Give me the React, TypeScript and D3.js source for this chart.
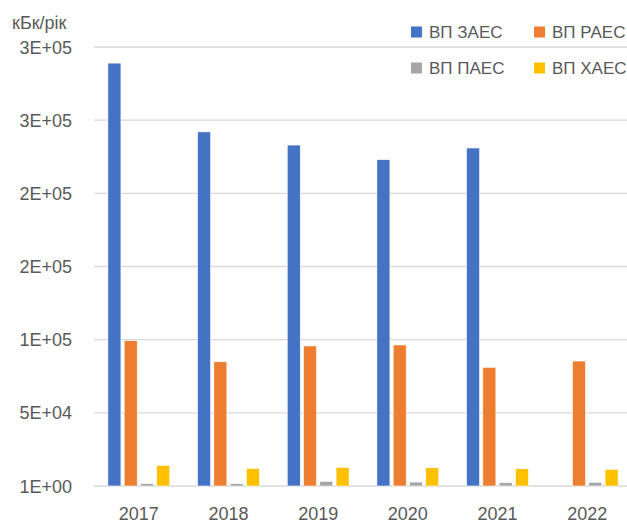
import React from 'react'
import * as d3 from 'd3'

const years = ['2017', '2018', '2019', '2020', '2021', '2022']
const seriesNames = ['ВП ЗАЕС', 'ВП РАЕС', 'ВП ПАЕС', 'ВП ХАЕС']
const seriesColors = ['#4472c4', '#ed7d31', '#a5a5a5', '#ffc000']

// kBq per year (null = no bar)
const zaes = [289000, 242000, 233000, 223000, 231000, null]
const raes = [99300, 84900, 95700, 96400, 81100, 85400]
const paes = [1600, 1600, 3200, 2700, 2300, 2500]
const khaes = [14100, 12100, 12800, 12500, 11800, 11400]

const yTicks = [1, 50001, 100001, 150001, 200001, 250001, 300001]

const allSeries = [zaes, raes, paes, khaes]

const fmt = (v: number) => {
  const [m, e] = v.toExponential(0).split('e')
  const sign = e[0] === '-' ? '-' : '+'
  const digits = e.replace(/[+-]/, '').padStart(2, '0')
  return `${m}E${sign}${digits}`
}

export default function App() {
  const W = 627
  const H = 523
  const left = 94
  const right = 632
  const top = 47
  const bottom = 486
  const font = '"Liberation Sans", Arial, sans-serif'
  const textColor = '#595959'

  const y = d3.scaleLinear().domain([1, 300001]).range([bottom, top])
  const x0 = d3.scaleBand().domain(years).range([left, right])
    .paddingInner(0.31).paddingOuter(0.155)
  const x1 = d3.scaleBand().domain(seriesNames).range([0, x0.bandwidth()])
    .paddingInner(0.2)

  const legend = [
    { i: 0, x: 411, y: 32 },
    { i: 1, x: 534, y: 32 },
    { i: 2, x: 411, y: 68 },
    { i: 3, x: 534, y: 68 },
  ]

  return (
    <svg width={W} height={H} style={{ display: 'block', position: 'absolute', left: 0, top: 0 }}>
      <rect width={W} height={H} fill="#fff" />

      {/* grid */}
      {yTicks.map(t => (
        <line key={t} x1={left} x2={right} y1={y(t)} y2={y(t)} stroke="#d9d9d9" strokeWidth={1.3} />
      ))}

      {/* y labels */}
      {yTicks.map(t => (
        <text key={'l' + t} x={72} y={y(t) + 6.5} textAnchor="end" fontFamily={font} fontSize={18} fill={textColor}>
          {fmt(t)}
        </text>
      ))}
      <text x={12} y={29} fontFamily={font} fontSize={18} fill={textColor}>кБк/рік</text>

      {/* bars */}
      {years.map((yr, ci) => (
        <g key={yr} transform={`translate(${x0(yr)},0)`}>
          {allSeries.map((s, si) => {
            const v = s[ci]
            if (v == null) return null
            return (
              <rect key={si} x={x1(seriesNames[si])} y={y(v)} width={x1.bandwidth()} height={bottom - y(v)}
                fill={seriesColors[si]} stroke="#fff" strokeWidth={0.6} />
            )
          })}
        </g>
      ))}

      {/* x labels */}
      {years.map(yr => (
        <text key={'x' + yr} x={(x0(yr) as number) + x0.bandwidth() / 2} y={520} textAnchor="middle"
          fontFamily={font} fontSize={18} fill={textColor}>{yr}</text>
      ))}

      {/* legend */}
      {legend.map(l => (
        <g key={l.i}>
          <rect x={l.x} y={l.y - 5.5} width={11} height={11} fill={seriesColors[l.i]} />
          <text x={l.x + 18} y={l.y + 6} fontFamily={font} fontSize={17} fill={textColor}>{seriesNames[l.i]}</text>
        </g>
      ))}
    </svg>
  )
}
